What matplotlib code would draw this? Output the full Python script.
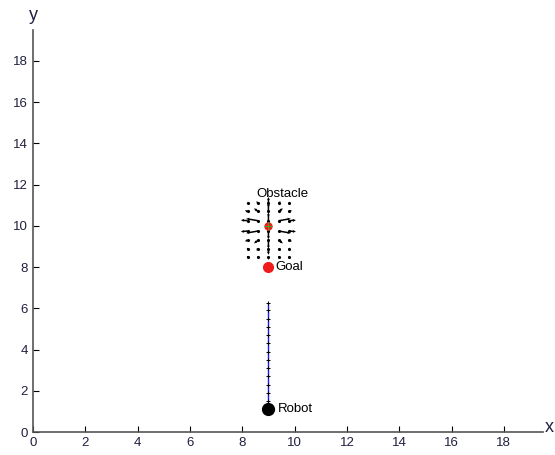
import numpy as np
import matplotlib.pyplot as plt

plt.rcParams['font.family'] = ['Liberation Sans', 'DejaVu Sans']

# positions
robot = (9.0, 1.1)
goal = (9.0, 8.0)
obstacle = (9.0, 10.0)

# robot path
path_x = [9.0] * 14
path_y = [1.1, 1.5, 1.9, 2.3, 2.7, 3.1, 3.5, 3.9, 4.3, 4.7, 5.1, 5.5, 5.9, 6.25]

# repulsive field around the obstacle (grid + vectors)
field_x = [8.2, 8.6, 9.0, 9.4, 9.8]
field_y = [8.5, 8.9, 9.3, 9.75, 10.25, 10.7, 11.1]
field_u = [
    [0.00, 0.00, 0.00, 0.00, 0.00],
    [-0.04, -0.06, 0.00, 0.06, 0.04],
    [-0.10, -0.15, 0.00, 0.15, 0.10],
    [-0.25, -0.45, 0.00, 0.45, 0.25],
    [-0.25, -0.45, 0.00, 0.45, 0.25],
    [-0.10, -0.15, 0.00, 0.15, 0.10],
    [-0.04, -0.06, 0.00, 0.06, 0.04],
]
field_v = [
    [0.00, 0.00, -0.15, 0.00, 0.00],
    [-0.05, -0.10, -0.30, -0.10, -0.05],
    [-0.05, -0.15, -0.40, -0.15, -0.05],
    [-0.03, -0.10, -0.40, -0.10, -0.03],
    [0.03, 0.10, 0.40, 0.10, 0.03],
    [0.05, 0.15, 0.40, 0.15, 0.05],
    [0.05, 0.10, 0.30, 0.10, 0.05],
]

fig = plt.figure(figsize=(5.55, 4.55), dpi=100)
ax = fig.add_axes([0.0595, 0.0505, 0.919, 0.8835])

gx, gy = np.meshgrid(field_x, field_y)
ax.quiver(gx, gy, np.array(field_u), np.array(field_v), angles='xy',
          scale_units='xy', scale=1, color='black', width=0.003,
          headwidth=2, headlength=2, headaxislength=1.8, zorder=3)
ax.plot(gx.ravel(), gy.ravel(), '.', color='black', ms=2.5, zorder=3)

ax.plot(path_x, path_y, color='#1a1aff', lw=1, zorder=2)
ax.plot(path_x, path_y, '+', color='black', ms=3, mew=0.7, zorder=3)

ax.plot(*robot, 'o', color='black', ms=8.5, zorder=4)
ax.plot(*goal, 'o', color='#ee1c1c', ms=7, zorder=4)
ax.plot(*obstacle, 'o', color='#ee1c1c', ms=5, zorder=4)
ax.plot(*obstacle, '+', color='#20c020', ms=6, mew=0.6, zorder=5)

ax.text(9.35, 1.1, 'Robot', fontsize=9.5, va='center', ha='left')
ax.text(9.25, 8.0, 'Goal', fontsize=9.5, va='center', ha='left')
ax.text(9.55, 11.55, 'Obstacle', fontsize=9.5, va='center', ha='center')

ax.set_xlim(0, 19.5)
ax.set_ylim(0, 19.5)
ax.set_xticks(range(0, 20, 2))
ax.set_yticks(range(0, 20, 2))
ax.spines['top'].set_visible(False)
ax.spines['right'].set_visible(False)
for s in ('left', 'bottom'):
    ax.spines[s].set_color('#555555')
    ax.spines[s].set_linewidth(1.2)
ax.tick_params(direction='in', length=4, width=0.8, colors='black',
               labelsize=9.5, labelcolor='#202040')

fig.text(33 / 555, 1 - 15 / 455, 'y', fontsize=13, ha='center', va='center', color='#202040')
fig.text(549 / 555, 1 - 428 / 455, 'x', fontsize=13, ha='center', va='center', color='#202040')

fig.savefig('out.png', dpi=100)
